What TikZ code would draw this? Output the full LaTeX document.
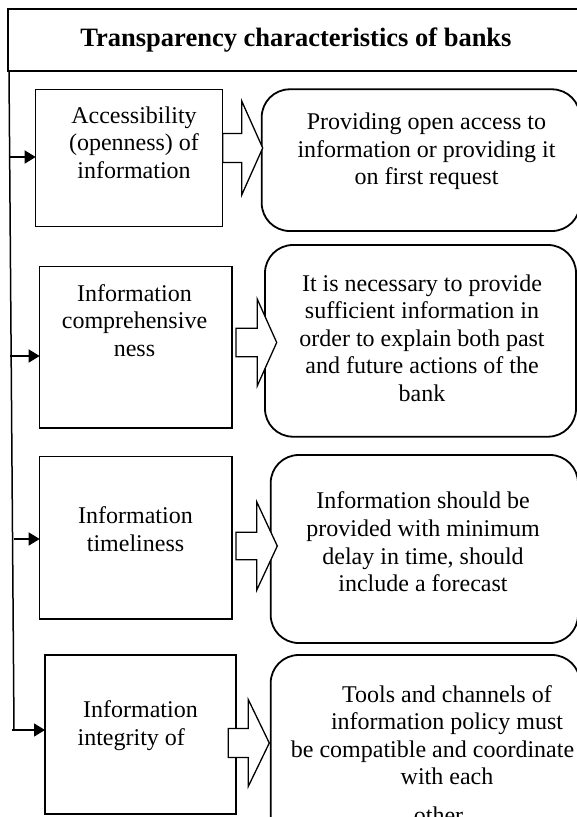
\documentclass[tikz,border=0pt]{standalone}
\usepackage{fontspec}
\setmainfont{Liberation Serif}
\usetikzlibrary{arrows.meta}
\newcommand{\myblockarrow}[6]{%
  \draw[barr] (#1,#4-#5) -- (#2,#4-#5) -- (#2,#4-#6) -- (#3,#4) -- (#2,#4+#6) -- (#2,#4+#5) -- (#1,#4+#5) -- cycle;}
\begin{document}
\begin{tikzpicture}[x=1pt,y=-1pt,
  box/.style={draw, line width=1.5pt, inner sep=0pt, outer sep=0pt, anchor=north west},
  rbox/.style={draw, line width=1.8pt, rounded corners=28pt, inner sep=0pt, outer sep=0pt, anchor=north west},
  tbox/.style={draw, line width=1.8pt, inner sep=0pt, outer sep=0pt, anchor=north west},
  txt/.style={align=center, inner sep=0pt, font=\fontsize{24}{27.6}\selectfont},
  conn/.style={line width=1.5pt, -{Triangle[length=11pt,width=13pt]}},
  vline/.style={line width=1.5pt},
  barr/.style={draw, fill=white, line width=1.3pt, line join=miter}]
\useasboundingbox (0,0) rectangle (577,817);
\clip (0,0) rectangle (577,817);
\fill[white] (0,0) rectangle (577,817);

% title
\node[tbox, minimum width=620pt, minimum height=61.4pt] (tb) at (8,9.3) {};
\node[inner sep=0pt, font=\bfseries\fontsize{26.5}{30}\selectfont] (title) at (296,40) {Transparency characteristics of banks};

% vertical line
\coordinate (vtop) at (9,70.7);
\coordinate (vbot) at (14,730);
\draw[vline] (vtop) -- (vbot);

% row 1
\node[box, minimum width=187pt, minimum height=137.2pt] (b1) at (35.7,89.5) {};
\node[txt] (t1) at (134,142.5) {Accessibility\\(openness) of\\information};
\node[rbox, minimum width=318.3pt, minimum height=141.7pt] (r1) at (261.7,89.3) {};
\node[txt] (u1) at (426.5,151.5) {Providing open access to\\information or providing it\\on first request};

% row 2
\node[box, minimum width=192.1pt, minimum height=161.5pt] (b2) at (39.7,266.7) {};
\node[txt] (t2) at (134.5,320.5) {Information\\comprehensive\\ness};
\node[rbox, minimum width=311pt, minimum height=191.7pt] (r2) at (265,245) {};
\node[txt] (u2) at (422,338) {It is necessary to provide\\sufficient information in\\order to explain both past\\and future actions of the\\bank};

% row 3
\node[box, minimum width=192.1pt, minimum height=162.3pt] (b3) at (39.7,456.7) {};
\node[txt] (t3) at (135.5,529) {Information\\timeliness};
\node[rbox, minimum width=307.3pt, minimum height=188pt] (r3) at (270.7,455) {};
\node[txt] (u3) at (423,542) {Information should be\\provided with minimum\\delay in time, should\\include a forecast};

% row 4
\node[box, minimum width=191pt, minimum height=159pt] (b4) at (45,655) {};
\node[txt] (t4) at (140.5,725.5) {Information\\\hspace*{-18.4pt}integrity of};
\node[rbox, minimum width=309.3pt, minimum height=220pt] (r4) at (270.7,655) {};
\node[txt] (u4) at (447,754.5) {Tools and channels of\\information policy must\\\hspace*{-29pt}be compatible and coordinate\\with each\\[11pt]\hspace*{-17pt}other};

% connectors from the vertical line
\coordinate (s1) at (8.8,157);
\coordinate (s2) at (9.5,356);
\coordinate (s3) at (13.5,539);
\coordinate (s4) at (11.7,730);
\draw[conn] (s1) -- (s1 -| b1.west);
\draw[conn] (s2) -- (s2 -| b2.west);
\draw[conn] (s3) -- (s3 -| b3.west);
\draw[conn] (s4) -- (s4 -| b4.west);

% block arrows
\myblockarrow{222.7}{241.7}{262.7}{148}{14.5}{47}
\myblockarrow{236}{257.3}{276.7}{342.5}{14.2}{43.3}
\myblockarrow{236}{256.7}{277.3}{546}{13.7}{44.2}
\myblockarrow{228.3}{248.3}{269.3}{743}{14.5}{43.4}
\end{tikzpicture}
\end{document}
